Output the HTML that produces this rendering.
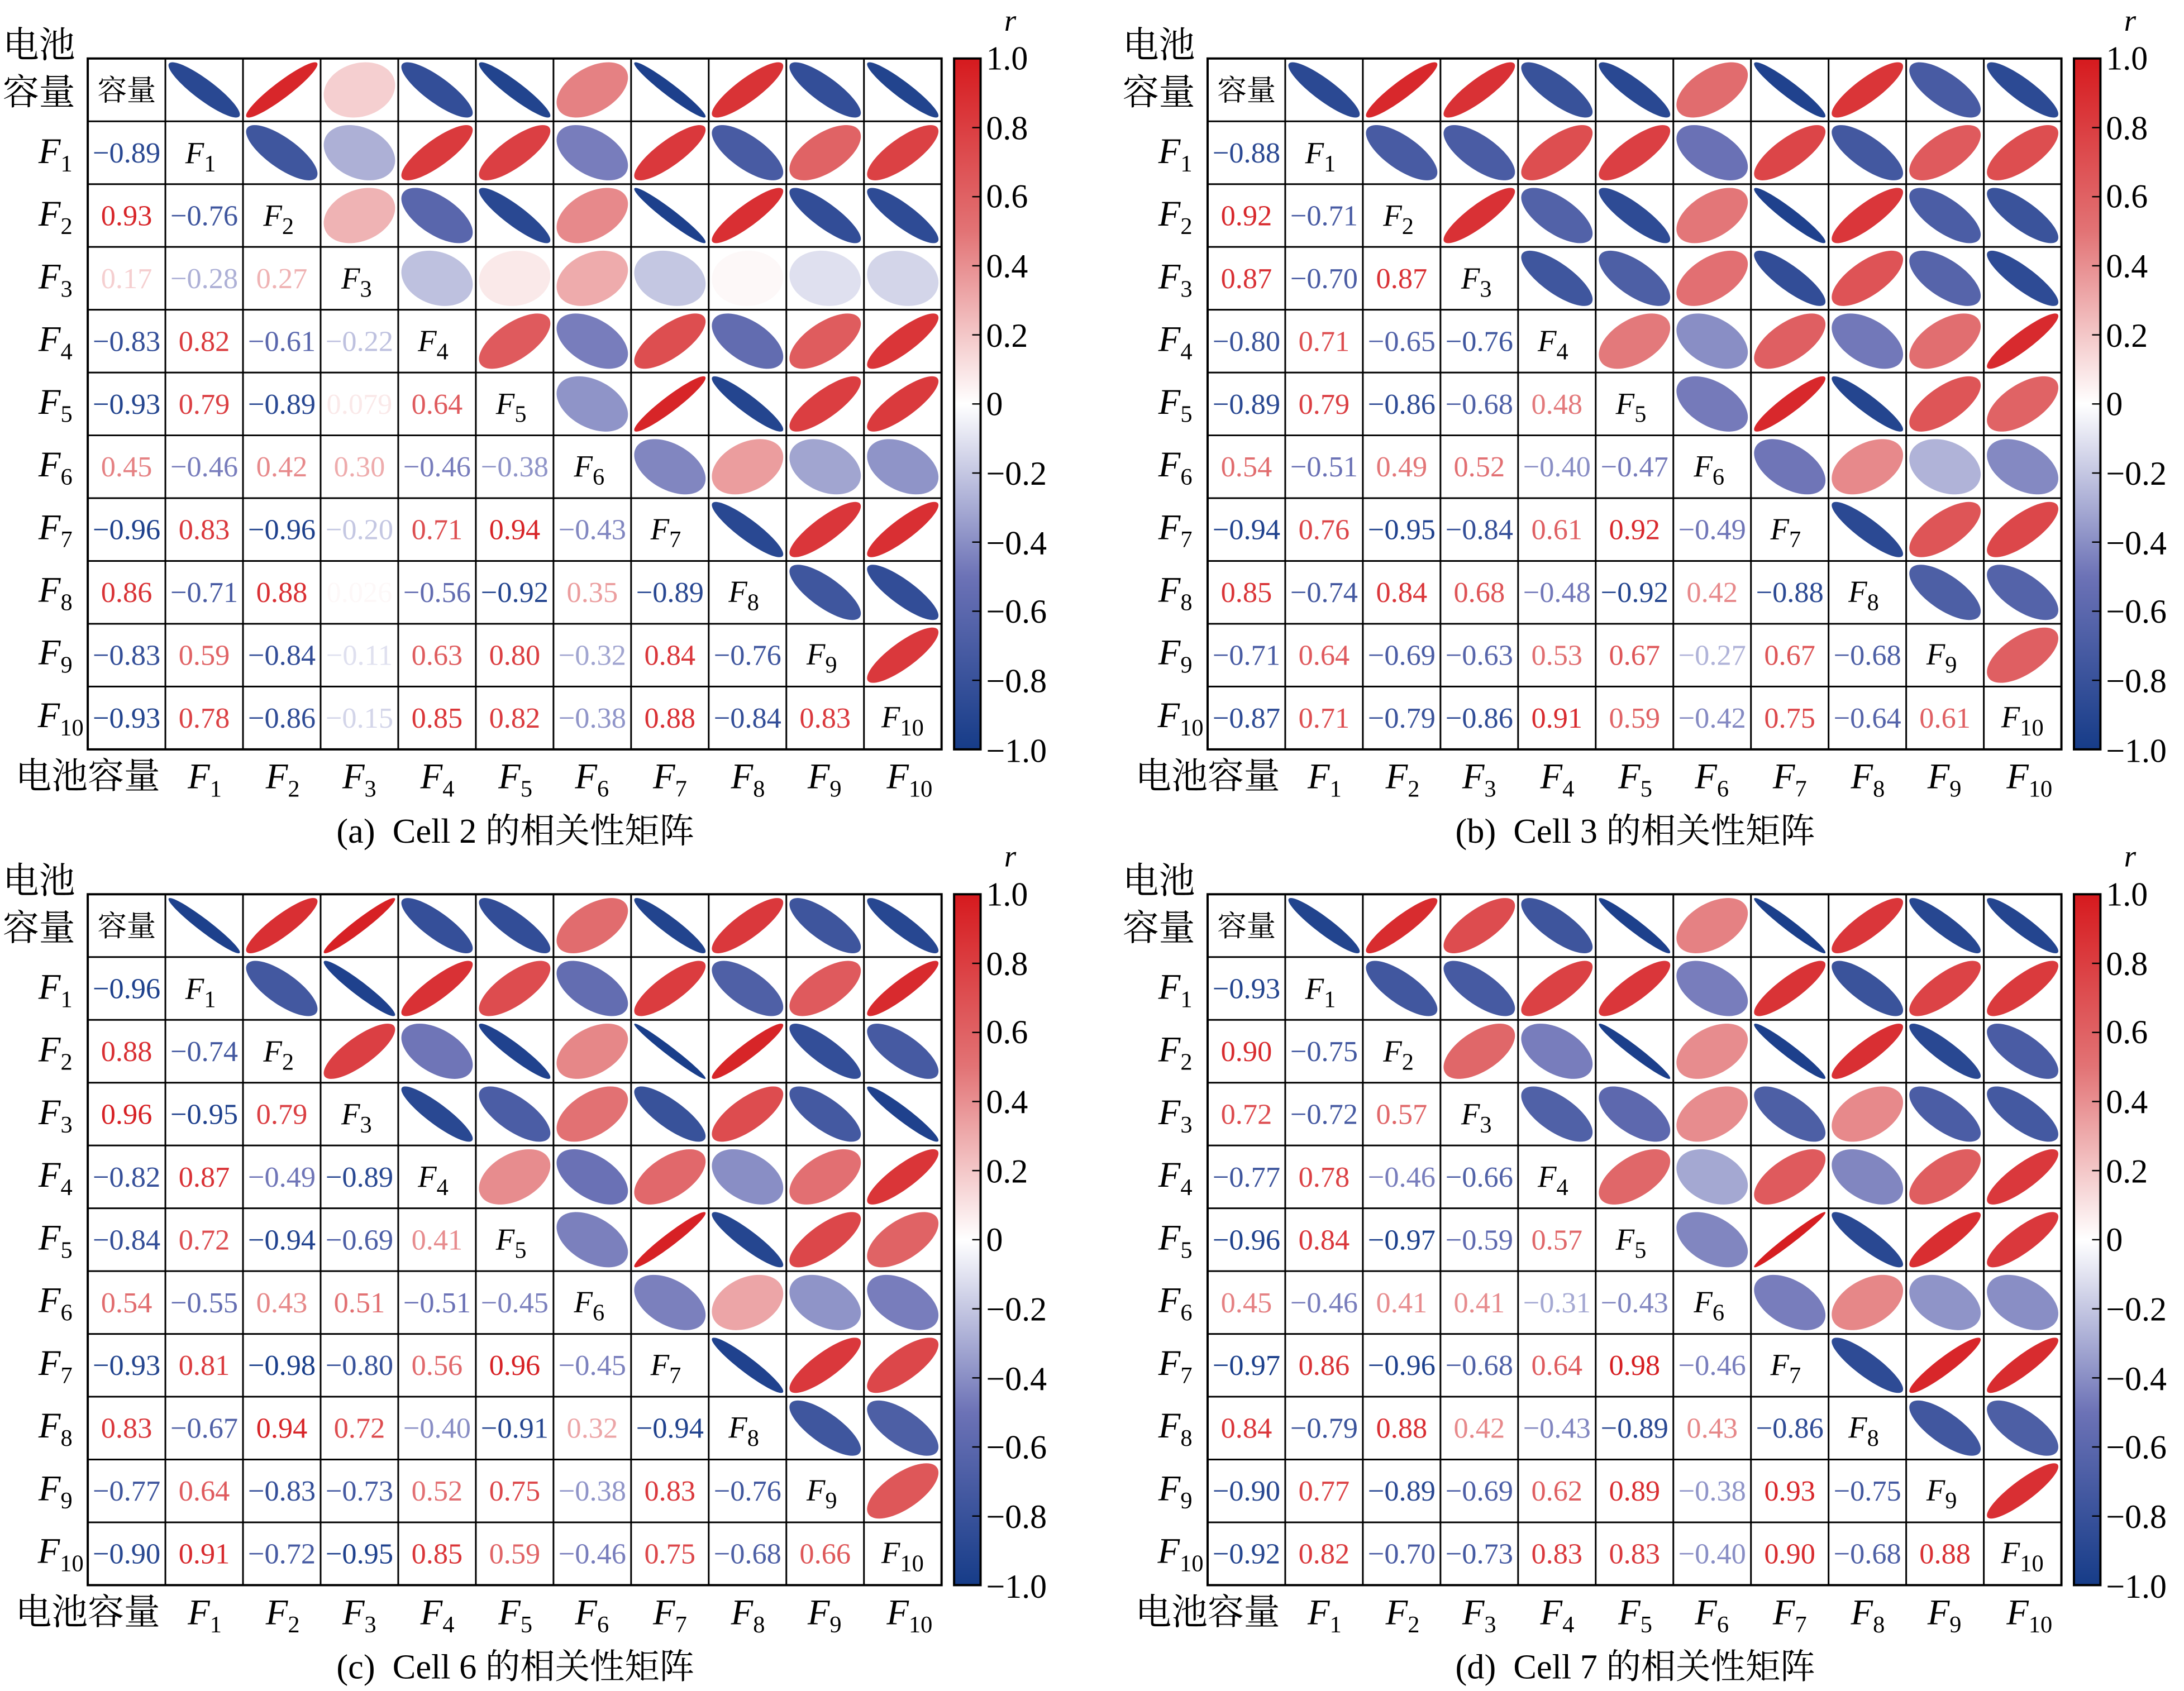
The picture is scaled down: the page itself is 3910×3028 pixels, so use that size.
<!DOCTYPE html>
<html><head><meta charset="utf-8">
<style>
html,body{margin:0;padding:0;background:#fff;}
svg{display:block;}
text{font-family:"Liberation Serif","Noto Serif CJK SC","Noto Sans CJK SC",serif;fill:#000;}
.v{font-size:21px;text-anchor:middle;}
.rl{font-size:26px;text-anchor:end;font-style:italic;}
.bl{font-size:26px;text-anchor:middle;font-style:italic;}
.dl{font-size:22px;text-anchor:middle;font-style:italic;}
.cn{font-size:26px;}
.ck{font-size:24px;}
.cap{font-size:25px;text-anchor:middle;}
.s{font-style:normal;font-size:17px;}
</style></head><body>
<svg id="sv" width="3910" height="3028" viewBox="0 0 1568 1214" preserveAspectRatio="none" xmlns="http://www.w3.org/2000/svg">
<defs>
<linearGradient id="cb" x1="0" y1="1" x2="0" y2="0">
<stop offset="0" stop-color="rgb(22,60,136)"/>
<stop offset="0.25" stop-color="rgb(108,114,182)"/>
<stop offset="0.5" stop-color="rgb(255,255,255)"/>
<stop offset="0.75" stop-color="rgb(226,115,117)"/>
<stop offset="1" stop-color="rgb(214,26,30)"/>
</linearGradient>
</defs>

<!-- PANEL A -->
<g class="panel" transform="translate(63,42)">
<text class="v">−0.89</text>
<text class="v">0.93</text><text class="v">−0.76</text>
<text class="v">0.17</text><text class="v">−0.28</text><text class="v">0.27</text>
<text class="v">−0.83</text><text class="v">0.82</text><text class="v">−0.61</text><text class="v">−0.22</text>
<text class="v">−0.93</text><text class="v">0.79</text><text class="v">−0.89</text><text class="v">0.079</text><text class="v">0.64</text>
<text class="v">0.45</text><text class="v">−0.46</text><text class="v">0.42</text><text class="v">0.30</text><text class="v">−0.46</text><text class="v">−0.38</text>
<text class="v">−0.96</text><text class="v">0.83</text><text class="v">−0.96</text><text class="v">−0.20</text><text class="v">0.71</text><text class="v">0.94</text><text class="v">−0.43</text>
<text class="v">0.86</text><text class="v">−0.71</text><text class="v">0.88</text><text class="v">0.026</text><text class="v">−0.56</text><text class="v">−0.92</text><text class="v">0.35</text><text class="v">−0.89</text>
<text class="v">−0.83</text><text class="v">0.59</text><text class="v">−0.84</text><text class="v">−0.11</text><text class="v">0.63</text><text class="v">0.80</text><text class="v">−0.32</text><text class="v">0.84</text><text class="v">−0.76</text>
<text class="v">−0.93</text><text class="v">0.78</text><text class="v">−0.86</text><text class="v">−0.15</text><text class="v">0.85</text><text class="v">0.82</text><text class="v">−0.38</text><text class="v">0.88</text><text class="v">−0.84</text><text class="v">0.83</text>
<text class="cn" x="-61" y="-1">电池</text><text class="cn" x="-61" y="33">容量</text>
<text x="28" y="30" style="font-size:21px;text-anchor:middle">容量</text>
<text class="dl" x="81" y="75">F<tspan class="s" dy="6">1</tspan></text>
<text class="dl" x="137" y="120">F<tspan class="s" dy="6">2</tspan></text>
<text class="dl" x="193" y="165">F<tspan class="s" dy="6">3</tspan></text>
<text class="dl" x="248" y="210">F<tspan class="s" dy="6">4</tspan></text>
<text class="dl" x="304" y="255">F<tspan class="s" dy="6">5</tspan></text>
<text class="dl" x="360" y="300">F<tspan class="s" dy="6">6</tspan></text>
<text class="dl" x="415" y="345">F<tspan class="s" dy="6">7</tspan></text>
<text class="dl" x="471" y="390">F<tspan class="s" dy="6">8</tspan></text>
<text class="dl" x="527" y="435">F<tspan class="s" dy="6">9</tspan></text>
<text class="dl" x="585" y="480">F<tspan class="s" dy="6">10</tspan></text>
<text class="rl" x="-11" y="75">F<tspan class="s" dy="6">1</tspan></text>
<text class="rl" x="-11" y="120">F<tspan class="s" dy="6">2</tspan></text>
<text class="rl" x="-11" y="165">F<tspan class="s" dy="6">3</tspan></text>
<text class="rl" x="-11" y="210">F<tspan class="s" dy="6">4</tspan></text>
<text class="rl" x="-11" y="255">F<tspan class="s" dy="6">5</tspan></text>
<text class="rl" x="-11" y="300">F<tspan class="s" dy="6">6</tspan></text>
<text class="rl" x="-11" y="345">F<tspan class="s" dy="6">7</tspan></text>
<text class="rl" x="-11" y="390">F<tspan class="s" dy="6">8</tspan></text>
<text class="rl" x="-11" y="435">F<tspan class="s" dy="6">9</tspan></text>
<text class="rl" x="-3" y="480">F<tspan class="s" dy="6">10</tspan></text>
<text class="cn" x="0" y="524" style="text-anchor:middle">电池容量</text>
<text class="bl" x="84" y="524">F<tspan class="s" dy="6">1</tspan></text>
<text class="bl" x="140" y="524">F<tspan class="s" dy="6">2</tspan></text>
<text class="bl" x="195" y="524">F<tspan class="s" dy="6">3</tspan></text>
<text class="bl" x="251" y="524">F<tspan class="s" dy="6">4</tspan></text>
<text class="bl" x="307" y="524">F<tspan class="s" dy="6">5</tspan></text>
<text class="bl" x="362" y="524">F<tspan class="s" dy="6">6</tspan></text>
<text class="bl" x="418" y="524">F<tspan class="s" dy="6">7</tspan></text>
<text class="bl" x="474" y="524">F<tspan class="s" dy="6">8</tspan></text>
<text class="bl" x="529" y="524">F<tspan class="s" dy="6">9</tspan></text>
<text class="bl" x="590" y="524">F<tspan class="s" dy="6">10</tspan></text>
<text class="cap" x="307" y="563">(a)&#160;&#160;Cell 2 的相关性矩阵</text>
<text x="658" y="-20" style="font-size:22px;font-style:italic">r</text>
<text class="ck" x="645" y="8">1.0</text><text class="ck" x="645" y="58">0.8</text><text class="ck" x="645" y="107">0.6</text><text class="ck" x="645" y="157">0.4</text><text class="ck" x="645" y="207">0.2</text><text class="ck" x="645" y="256">0</text><text class="ck" x="645" y="306">−0.2</text><text class="ck" x="645" y="356">−0.4</text><text class="ck" x="645" y="405">−0.6</text><text class="ck" x="645" y="455">−0.8</text><text class="ck" x="645" y="505">−1.0</text>
</g>

<!-- PANEL B -->
<g class="panel" transform="translate(867,42)">
<text class="v">−0.88</text>
<text class="v">0.92</text><text class="v">−0.71</text>
<text class="v">0.87</text><text class="v">−0.70</text><text class="v">0.87</text>
<text class="v">−0.80</text><text class="v">0.71</text><text class="v">−0.65</text><text class="v">−0.76</text>
<text class="v">−0.89</text><text class="v">0.79</text><text class="v">−0.86</text><text class="v">−0.68</text><text class="v">0.48</text>
<text class="v">0.54</text><text class="v">−0.51</text><text class="v">0.49</text><text class="v">0.52</text><text class="v">−0.40</text><text class="v">−0.47</text>
<text class="v">−0.94</text><text class="v">0.76</text><text class="v">−0.95</text><text class="v">−0.84</text><text class="v">0.61</text><text class="v">0.92</text><text class="v">−0.49</text>
<text class="v">0.85</text><text class="v">−0.74</text><text class="v">0.84</text><text class="v">0.68</text><text class="v">−0.48</text><text class="v">−0.92</text><text class="v">0.42</text><text class="v">−0.88</text>
<text class="v">−0.71</text><text class="v">0.64</text><text class="v">−0.69</text><text class="v">−0.63</text><text class="v">0.53</text><text class="v">0.67</text><text class="v">−0.27</text><text class="v">0.67</text><text class="v">−0.68</text>
<text class="v">−0.87</text><text class="v">0.71</text><text class="v">−0.79</text><text class="v">−0.86</text><text class="v">0.91</text><text class="v">0.59</text><text class="v">−0.42</text><text class="v">0.75</text><text class="v">−0.64</text><text class="v">0.61</text>
<text class="cn" x="-61" y="-1">电池</text><text class="cn" x="-61" y="33">容量</text>
<text x="28" y="30" style="font-size:21px;text-anchor:middle">容量</text>
<text class="dl" x="81" y="75">F<tspan class="s" dy="6">1</tspan></text>
<text class="dl" x="137" y="120">F<tspan class="s" dy="6">2</tspan></text>
<text class="dl" x="193" y="165">F<tspan class="s" dy="6">3</tspan></text>
<text class="dl" x="248" y="210">F<tspan class="s" dy="6">4</tspan></text>
<text class="dl" x="304" y="255">F<tspan class="s" dy="6">5</tspan></text>
<text class="dl" x="360" y="300">F<tspan class="s" dy="6">6</tspan></text>
<text class="dl" x="415" y="345">F<tspan class="s" dy="6">7</tspan></text>
<text class="dl" x="471" y="390">F<tspan class="s" dy="6">8</tspan></text>
<text class="dl" x="527" y="435">F<tspan class="s" dy="6">9</tspan></text>
<text class="dl" x="585" y="480">F<tspan class="s" dy="6">10</tspan></text>
<text class="rl" x="-11" y="75">F<tspan class="s" dy="6">1</tspan></text>
<text class="rl" x="-11" y="120">F<tspan class="s" dy="6">2</tspan></text>
<text class="rl" x="-11" y="165">F<tspan class="s" dy="6">3</tspan></text>
<text class="rl" x="-11" y="210">F<tspan class="s" dy="6">4</tspan></text>
<text class="rl" x="-11" y="255">F<tspan class="s" dy="6">5</tspan></text>
<text class="rl" x="-11" y="300">F<tspan class="s" dy="6">6</tspan></text>
<text class="rl" x="-11" y="345">F<tspan class="s" dy="6">7</tspan></text>
<text class="rl" x="-11" y="390">F<tspan class="s" dy="6">8</tspan></text>
<text class="rl" x="-11" y="435">F<tspan class="s" dy="6">9</tspan></text>
<text class="rl" x="-3" y="480">F<tspan class="s" dy="6">10</tspan></text>
<text class="cn" x="0" y="524" style="text-anchor:middle">电池容量</text>
<text class="bl" x="84" y="524">F<tspan class="s" dy="6">1</tspan></text>
<text class="bl" x="140" y="524">F<tspan class="s" dy="6">2</tspan></text>
<text class="bl" x="195" y="524">F<tspan class="s" dy="6">3</tspan></text>
<text class="bl" x="251" y="524">F<tspan class="s" dy="6">4</tspan></text>
<text class="bl" x="307" y="524">F<tspan class="s" dy="6">5</tspan></text>
<text class="bl" x="362" y="524">F<tspan class="s" dy="6">6</tspan></text>
<text class="bl" x="418" y="524">F<tspan class="s" dy="6">7</tspan></text>
<text class="bl" x="474" y="524">F<tspan class="s" dy="6">8</tspan></text>
<text class="bl" x="529" y="524">F<tspan class="s" dy="6">9</tspan></text>
<text class="bl" x="590" y="524">F<tspan class="s" dy="6">10</tspan></text>
<text class="cap" x="307" y="563">(b)&#160;&#160;Cell 3 的相关性矩阵</text>
<text x="658" y="-20" style="font-size:22px;font-style:italic">r</text>
<text class="ck" x="645" y="8">1.0</text><text class="ck" x="645" y="58">0.8</text><text class="ck" x="645" y="107">0.6</text><text class="ck" x="645" y="157">0.4</text><text class="ck" x="645" y="207">0.2</text><text class="ck" x="645" y="256">0</text><text class="ck" x="645" y="306">−0.2</text><text class="ck" x="645" y="356">−0.4</text><text class="ck" x="645" y="405">−0.6</text><text class="ck" x="645" y="455">−0.8</text><text class="ck" x="645" y="505">−1.0</text>
</g>

<!-- PANEL C -->
<g class="panel" transform="translate(63,642)">
<text class="v">−0.96</text>
<text class="v">0.88</text><text class="v">−0.74</text>
<text class="v">0.96</text><text class="v">−0.95</text><text class="v">0.79</text>
<text class="v">−0.82</text><text class="v">0.87</text><text class="v">−0.49</text><text class="v">−0.89</text>
<text class="v">−0.84</text><text class="v">0.72</text><text class="v">−0.94</text><text class="v">−0.69</text><text class="v">0.41</text>
<text class="v">0.54</text><text class="v">−0.55</text><text class="v">0.43</text><text class="v">0.51</text><text class="v">−0.51</text><text class="v">−0.45</text>
<text class="v">−0.93</text><text class="v">0.81</text><text class="v">−0.98</text><text class="v">−0.80</text><text class="v">0.56</text><text class="v">0.96</text><text class="v">−0.45</text>
<text class="v">0.83</text><text class="v">−0.67</text><text class="v">0.94</text><text class="v">0.72</text><text class="v">−0.40</text><text class="v">−0.91</text><text class="v">0.32</text><text class="v">−0.94</text>
<text class="v">−0.77</text><text class="v">0.64</text><text class="v">−0.83</text><text class="v">−0.73</text><text class="v">0.52</text><text class="v">0.75</text><text class="v">−0.38</text><text class="v">0.83</text><text class="v">−0.76</text>
<text class="v">−0.90</text><text class="v">0.91</text><text class="v">−0.72</text><text class="v">−0.95</text><text class="v">0.85</text><text class="v">0.59</text><text class="v">−0.46</text><text class="v">0.75</text><text class="v">−0.68</text><text class="v">0.66</text>
<text class="cn" x="-61" y="-1">电池</text><text class="cn" x="-61" y="33">容量</text>
<text x="28" y="30" style="font-size:21px;text-anchor:middle">容量</text>
<text class="dl" x="81" y="75">F<tspan class="s" dy="6">1</tspan></text>
<text class="dl" x="137" y="120">F<tspan class="s" dy="6">2</tspan></text>
<text class="dl" x="193" y="165">F<tspan class="s" dy="6">3</tspan></text>
<text class="dl" x="248" y="210">F<tspan class="s" dy="6">4</tspan></text>
<text class="dl" x="304" y="255">F<tspan class="s" dy="6">5</tspan></text>
<text class="dl" x="360" y="300">F<tspan class="s" dy="6">6</tspan></text>
<text class="dl" x="415" y="345">F<tspan class="s" dy="6">7</tspan></text>
<text class="dl" x="471" y="390">F<tspan class="s" dy="6">8</tspan></text>
<text class="dl" x="527" y="435">F<tspan class="s" dy="6">9</tspan></text>
<text class="dl" x="585" y="480">F<tspan class="s" dy="6">10</tspan></text>
<text class="rl" x="-11" y="75">F<tspan class="s" dy="6">1</tspan></text>
<text class="rl" x="-11" y="120">F<tspan class="s" dy="6">2</tspan></text>
<text class="rl" x="-11" y="165">F<tspan class="s" dy="6">3</tspan></text>
<text class="rl" x="-11" y="210">F<tspan class="s" dy="6">4</tspan></text>
<text class="rl" x="-11" y="255">F<tspan class="s" dy="6">5</tspan></text>
<text class="rl" x="-11" y="300">F<tspan class="s" dy="6">6</tspan></text>
<text class="rl" x="-11" y="345">F<tspan class="s" dy="6">7</tspan></text>
<text class="rl" x="-11" y="390">F<tspan class="s" dy="6">8</tspan></text>
<text class="rl" x="-11" y="435">F<tspan class="s" dy="6">9</tspan></text>
<text class="rl" x="-3" y="480">F<tspan class="s" dy="6">10</tspan></text>
<text class="cn" x="0" y="524" style="text-anchor:middle">电池容量</text>
<text class="bl" x="84" y="524">F<tspan class="s" dy="6">1</tspan></text>
<text class="bl" x="140" y="524">F<tspan class="s" dy="6">2</tspan></text>
<text class="bl" x="195" y="524">F<tspan class="s" dy="6">3</tspan></text>
<text class="bl" x="251" y="524">F<tspan class="s" dy="6">4</tspan></text>
<text class="bl" x="307" y="524">F<tspan class="s" dy="6">5</tspan></text>
<text class="bl" x="362" y="524">F<tspan class="s" dy="6">6</tspan></text>
<text class="bl" x="418" y="524">F<tspan class="s" dy="6">7</tspan></text>
<text class="bl" x="474" y="524">F<tspan class="s" dy="6">8</tspan></text>
<text class="bl" x="529" y="524">F<tspan class="s" dy="6">9</tspan></text>
<text class="bl" x="590" y="524">F<tspan class="s" dy="6">10</tspan></text>
<text class="cap" x="307" y="563">(c)&#160;&#160;Cell 6 的相关性矩阵</text>
<text x="658" y="-20" style="font-size:22px;font-style:italic">r</text>
<text class="ck" x="645" y="8">1.0</text><text class="ck" x="645" y="58">0.8</text><text class="ck" x="645" y="107">0.6</text><text class="ck" x="645" y="157">0.4</text><text class="ck" x="645" y="207">0.2</text><text class="ck" x="645" y="256">0</text><text class="ck" x="645" y="306">−0.2</text><text class="ck" x="645" y="356">−0.4</text><text class="ck" x="645" y="405">−0.6</text><text class="ck" x="645" y="455">−0.8</text><text class="ck" x="645" y="505">−1.0</text>
</g>

<!-- PANEL D -->
<g class="panel" transform="translate(867,642)">
<text class="v">−0.93</text>
<text class="v">0.90</text><text class="v">−0.75</text>
<text class="v">0.72</text><text class="v">−0.72</text><text class="v">0.57</text>
<text class="v">−0.77</text><text class="v">0.78</text><text class="v">−0.46</text><text class="v">−0.66</text>
<text class="v">−0.96</text><text class="v">0.84</text><text class="v">−0.97</text><text class="v">−0.59</text><text class="v">0.57</text>
<text class="v">0.45</text><text class="v">−0.46</text><text class="v">0.41</text><text class="v">0.41</text><text class="v">−0.31</text><text class="v">−0.43</text>
<text class="v">−0.97</text><text class="v">0.86</text><text class="v">−0.96</text><text class="v">−0.68</text><text class="v">0.64</text><text class="v">0.98</text><text class="v">−0.46</text>
<text class="v">0.84</text><text class="v">−0.79</text><text class="v">0.88</text><text class="v">0.42</text><text class="v">−0.43</text><text class="v">−0.89</text><text class="v">0.43</text><text class="v">−0.86</text>
<text class="v">−0.90</text><text class="v">0.77</text><text class="v">−0.89</text><text class="v">−0.69</text><text class="v">0.62</text><text class="v">0.89</text><text class="v">−0.38</text><text class="v">0.93</text><text class="v">−0.75</text>
<text class="v">−0.92</text><text class="v">0.82</text><text class="v">−0.70</text><text class="v">−0.73</text><text class="v">0.83</text><text class="v">0.83</text><text class="v">−0.40</text><text class="v">0.90</text><text class="v">−0.68</text><text class="v">0.88</text>
<text class="cn" x="-61" y="-1">电池</text><text class="cn" x="-61" y="33">容量</text>
<text x="28" y="30" style="font-size:21px;text-anchor:middle">容量</text>
<text class="dl" x="81" y="75">F<tspan class="s" dy="6">1</tspan></text>
<text class="dl" x="137" y="120">F<tspan class="s" dy="6">2</tspan></text>
<text class="dl" x="193" y="165">F<tspan class="s" dy="6">3</tspan></text>
<text class="dl" x="248" y="210">F<tspan class="s" dy="6">4</tspan></text>
<text class="dl" x="304" y="255">F<tspan class="s" dy="6">5</tspan></text>
<text class="dl" x="360" y="300">F<tspan class="s" dy="6">6</tspan></text>
<text class="dl" x="415" y="345">F<tspan class="s" dy="6">7</tspan></text>
<text class="dl" x="471" y="390">F<tspan class="s" dy="6">8</tspan></text>
<text class="dl" x="527" y="435">F<tspan class="s" dy="6">9</tspan></text>
<text class="dl" x="585" y="480">F<tspan class="s" dy="6">10</tspan></text>
<text class="rl" x="-11" y="75">F<tspan class="s" dy="6">1</tspan></text>
<text class="rl" x="-11" y="120">F<tspan class="s" dy="6">2</tspan></text>
<text class="rl" x="-11" y="165">F<tspan class="s" dy="6">3</tspan></text>
<text class="rl" x="-11" y="210">F<tspan class="s" dy="6">4</tspan></text>
<text class="rl" x="-11" y="255">F<tspan class="s" dy="6">5</tspan></text>
<text class="rl" x="-11" y="300">F<tspan class="s" dy="6">6</tspan></text>
<text class="rl" x="-11" y="345">F<tspan class="s" dy="6">7</tspan></text>
<text class="rl" x="-11" y="390">F<tspan class="s" dy="6">8</tspan></text>
<text class="rl" x="-11" y="435">F<tspan class="s" dy="6">9</tspan></text>
<text class="rl" x="-3" y="480">F<tspan class="s" dy="6">10</tspan></text>
<text class="cn" x="0" y="524" style="text-anchor:middle">电池容量</text>
<text class="bl" x="84" y="524">F<tspan class="s" dy="6">1</tspan></text>
<text class="bl" x="140" y="524">F<tspan class="s" dy="6">2</tspan></text>
<text class="bl" x="195" y="524">F<tspan class="s" dy="6">3</tspan></text>
<text class="bl" x="251" y="524">F<tspan class="s" dy="6">4</tspan></text>
<text class="bl" x="307" y="524">F<tspan class="s" dy="6">5</tspan></text>
<text class="bl" x="362" y="524">F<tspan class="s" dy="6">6</tspan></text>
<text class="bl" x="418" y="524">F<tspan class="s" dy="6">7</tspan></text>
<text class="bl" x="474" y="524">F<tspan class="s" dy="6">8</tspan></text>
<text class="bl" x="529" y="524">F<tspan class="s" dy="6">9</tspan></text>
<text class="bl" x="590" y="524">F<tspan class="s" dy="6">10</tspan></text>
<text class="cap" x="307" y="563">(d)&#160;&#160;Cell 7 的相关性矩阵</text>
<text x="658" y="-20" style="font-size:22px;font-style:italic">r</text>
<text class="ck" x="645" y="8">1.0</text><text class="ck" x="645" y="58">0.8</text><text class="ck" x="645" y="107">0.6</text><text class="ck" x="645" y="157">0.4</text><text class="ck" x="645" y="207">0.2</text><text class="ck" x="645" y="256">0</text><text class="ck" x="645" y="306">−0.2</text><text class="ck" x="645" y="356">−0.4</text><text class="ck" x="645" y="405">−0.6</text><text class="ck" x="645" y="455">−0.8</text><text class="ck" x="645" y="505">−1.0</text>
</g>
</svg>
<script>
(function(){
var NS="http://www.w3.org/2000/svg";
var W=613,H=496,cw=W/11,ch=H/11;
var st=[[-1,[22,60,136]],[-0.5,[108,114,182]],[0,[255,255,255]],[0.5,[226,115,117]],[1,[214,26,30]]];
function col(r){
  if(r<=-1)return"rgb(22,60,136)"; if(r>=1)return"rgb(214,26,30)";
  for(var i=0;i<st.length-1;i++){
    if(r>=st[i][0]&&r<=st[i+1][0]){
      var t=(r-st[i][0])/(st[i+1][0]-st[i][0]),a=st[i][1],b=st[i+1][1];
      return "rgb("+Math.round(a[0]+(b[0]-a[0])*t)+","+Math.round(a[1]+(b[1]-a[1])*t)+","+Math.round(a[2]+(b[2]-a[2])*t)+")";
    }
  }
  return "#fff";
}
function el(tag,attrs,parent,first){
  var e=document.createElementNS(NS,tag);
  for(var k in attrs)e.setAttribute(k,attrs[k]);
  if(first&&parent.firstChild)parent.insertBefore(e,parent.firstChild);else parent.appendChild(e);
  return e;
}
var panels=document.querySelectorAll("g.panel");
for(var p=0;p<panels.length;p++){
  var g=panels[p];
  var texts=g.querySelectorAll("text.v");
  var M=[],k=0;
  for(var i=1;i<=10;i++){M[i]=[];
    for(var j=0;j<i;j++){
      var t=texts[k++];
      var r=parseFloat(t.textContent.replace("−","-"));
      M[i][j]=r;
      t.setAttribute("x",(j+0.5)*cw);
      t.setAttribute("y",(i+0.5)*ch+7);
      t.setAttribute("style","fill:"+col(r));
    }
  }
  var bg=el("g",{},g,true);
  for(var a=0;a<11;a++){
    for(var b=a+1;b<11;b++){
      var r=M[b][a];
      var cx=(b+0.5)*cw,cy=(a+0.5)*ch;
      var d=Math.acos(Math.max(-0.999,Math.min(0.999,r)));
      var s="";
      for(var n=0;n<=72;n++){
        var tt=n/72*2*Math.PI;
        var x=cx+Math.cos(tt+d/2)*cw*0.46;
        var y=cy-Math.cos(tt-d/2)*ch*0.44;
        s+=(n?"L":"M")+x.toFixed(2)+" "+y.toFixed(2);
      }
      el("path",{d:s+"Z",fill:col(r)},bg);
    }
  }
  for(var i=1;i<11;i++){
    el("line",{x1:i*cw,y1:0,x2:i*cw,y2:H,stroke:"#000","stroke-width":1.2},bg);
    el("line",{x1:0,y1:i*ch,x2:W,y2:i*ch,stroke:"#000","stroke-width":1.2},bg);
  }
  el("rect",{x:0,y:0,width:W,height:H,fill:"none",stroke:"#000","stroke-width":1.6},bg);
  el("rect",{x:622,y:0,width:19,height:H,fill:"url(#cb)",stroke:"#000","stroke-width":1.6},bg);
  for(var i=1;i<10;i++){
    var yy=i*H/10;
    el("line",{x1:635,y1:yy,x2:641,y2:yy,stroke:"#000","stroke-width":1},bg);
  }
}
})();
</script>
</body></html>
